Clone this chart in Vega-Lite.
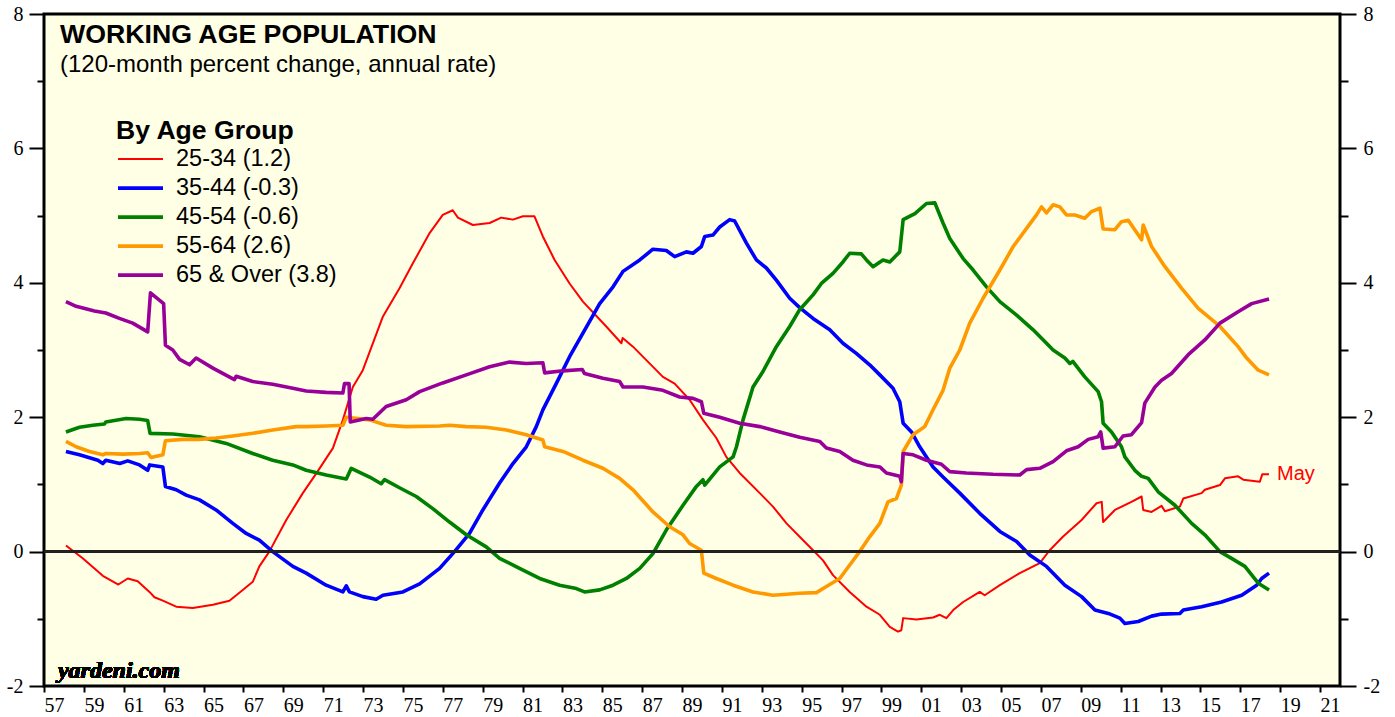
{
  "$schema": "https://vega.github.io/schema/vega-lite/v6.json",
  "width": 1296,
  "height": 672,
  "autosize": {"type": "none"},
  "padding": {"left": 44, "top": 14, "right": 55, "bottom": 31},
  "background": "white",
  "title": {
    "text": "WORKING AGE POPULATION",
    "subtitle": "(120-month percent change, annual rate)",
    "anchor": "start",
    "frame": "group",
    "orient": "top",
    "offset": -73,
    "dx": 16,
    "font": "Liberation Sans",
    "fontSize": 26.7,
    "fontWeight": "bold",
    "color": "black",
    "subtitleFont": "Liberation Sans",
    "subtitleFontSize": 24,
    "subtitleColor": "black",
    "subtitlePadding": 4
  },
  "datasets": {
    "pop": [
      {"g":"25-34 (1.2)","t":1958.1,"v":0.09},{"g":"25-34 (1.2)","t":1958.94,"v":-0.10},{"g":"25-34 (1.2)","t":1959.95,"v":-0.36},{"g":"25-34 (1.2)","t":1960.73,"v":-0.49},{"g":"25-34 (1.2)","t":1961.2,"v":-0.40},{"g":"25-34 (1.2)","t":1961.7,"v":-0.44},{"g":"25-34 (1.2)","t":1962.29,"v":-0.60},{"g":"25-34 (1.2)","t":1962.54,"v":-0.68},{"g":"25-34 (1.2)","t":1962.96,"v":-0.73},{"g":"25-34 (1.2)","t":1963.63,"v":-0.82},{"g":"25-34 (1.2)","t":1964.46,"v":-0.84},{"g":"25-34 (1.2)","t":1965.47,"v":-0.79},{"g":"25-34 (1.2)","t":1966.3,"v":-0.73},{"g":"25-34 (1.2)","t":1966.97,"v":-0.57},{"g":"25-34 (1.2)","t":1967.47,"v":-0.45},{"g":"25-34 (1.2)","t":1967.8,"v":-0.22},{"g":"25-34 (1.2)","t":1968.3,"v":0.0},{"g":"25-34 (1.2)","t":1969.15,"v":0.47},{"g":"25-34 (1.2)","t":1969.98,"v":0.87},{"g":"25-34 (1.2)","t":1970.65,"v":1.16},{"g":"25-34 (1.2)","t":1971.49,"v":1.54},{"g":"25-34 (1.2)","t":1971.99,"v":1.96},{"g":"25-34 (1.2)","t":1972.49,"v":2.45},{"g":"25-34 (1.2)","t":1972.99,"v":2.70},{"g":"25-34 (1.2)","t":1974.0,"v":3.50},{"g":"25-34 (1.2)","t":1974.83,"v":3.92},{"g":"25-34 (1.2)","t":1975.5,"v":4.29},{"g":"25-34 (1.2)","t":1976.34,"v":4.74},{"g":"25-34 (1.2)","t":1977.0,"v":5.01},{"g":"25-34 (1.2)","t":1977.5,"v":5.08},{"g":"25-34 (1.2)","t":1977.76,"v":4.97},{"g":"25-34 (1.2)","t":1978.51,"v":4.86},{"g":"25-34 (1.2)","t":1979.35,"v":4.89},{"g":"25-34 (1.2)","t":1979.93,"v":4.97},{"g":"25-34 (1.2)","t":1980.52,"v":4.94},{"g":"25-34 (1.2)","t":1981.02,"v":4.99},{"g":"25-34 (1.2)","t":1981.6,"v":4.99},{"g":"25-34 (1.2)","t":1982.02,"v":4.69},{"g":"25-34 (1.2)","t":1982.61,"v":4.34},{"g":"25-34 (1.2)","t":1983.36,"v":3.99},{"g":"25-34 (1.2)","t":1984.03,"v":3.72},{"g":"25-34 (1.2)","t":1985.2,"v":3.35},{"g":"25-34 (1.2)","t":1985.96,"v":3.10},{"g":"25-34 (1.2)","t":1986.02,"v":3.18},{"g":"25-34 (1.2)","t":1986.54,"v":3.05},{"g":"25-34 (1.2)","t":1987.21,"v":2.85},{"g":"25-34 (1.2)","t":1988.04,"v":2.60},{"g":"25-34 (1.2)","t":1988.63,"v":2.50},{"g":"25-34 (1.2)","t":1989.38,"v":2.26},{"g":"25-34 (1.2)","t":1990.05,"v":1.96},{"g":"25-34 (1.2)","t":1990.72,"v":1.69},{"g":"25-34 (1.2)","t":1991.22,"v":1.41},{"g":"25-34 (1.2)","t":1991.89,"v":1.17},{"g":"25-34 (1.2)","t":1992.9,"v":0.87},{"g":"25-34 (1.2)","t":1993.56,"v":0.67},{"g":"25-34 (1.2)","t":1994.24,"v":0.42},{"g":"25-34 (1.2)","t":1994.9,"v":0.22},{"g":"25-34 (1.2)","t":1995.57,"v":0.02},{"g":"25-34 (1.2)","t":1996.07,"v":-0.13},{"g":"25-34 (1.2)","t":1996.57,"v":-0.35},{"g":"25-34 (1.2)","t":1997.41,"v":-0.60},{"g":"25-34 (1.2)","t":1998.25,"v":-0.82},{"g":"25-34 (1.2)","t":1998.92,"v":-0.94},{"g":"25-34 (1.2)","t":1999.42,"v":-1.12},{"g":"25-34 (1.2)","t":1999.83,"v":-1.19},{"g":"25-34 (1.2)","t":2000.0,"v":-1.17},{"g":"25-34 (1.2)","t":2000.09,"v":-0.99},{"g":"25-34 (1.2)","t":2000.76,"v":-1.01},{"g":"25-34 (1.2)","t":2001.59,"v":-0.98},{"g":"25-34 (1.2)","t":2001.93,"v":-0.94},{"g":"25-34 (1.2)","t":2002.26,"v":-0.99},{"g":"25-34 (1.2)","t":2002.6,"v":-0.87},{"g":"25-34 (1.2)","t":2003.1,"v":-0.75},{"g":"25-34 (1.2)","t":2003.93,"v":-0.60},{"g":"25-34 (1.2)","t":2004.18,"v":-0.65},{"g":"25-34 (1.2)","t":2004.94,"v":-0.50},{"g":"25-34 (1.2)","t":2005.94,"v":-0.32},{"g":"25-34 (1.2)","t":2006.94,"v":-0.17},{"g":"25-34 (1.2)","t":2007.44,"v":0.02},{"g":"25-34 (1.2)","t":2008.1,"v":0.22},{"g":"25-34 (1.2)","t":2009.04,"v":0.47},{"g":"25-34 (1.2)","t":2009.79,"v":0.72},{"g":"25-34 (1.2)","t":2010.05,"v":0.74},{"g":"25-34 (1.2)","t":2010.12,"v":0.44},{"g":"25-34 (1.2)","t":2010.71,"v":0.62},{"g":"25-34 (1.2)","t":2011.54,"v":0.74},{"g":"25-34 (1.2)","t":2012.05,"v":0.82},{"g":"25-34 (1.2)","t":2012.13,"v":0.62},{"g":"25-34 (1.2)","t":2012.55,"v":0.59},{"g":"25-34 (1.2)","t":2013.05,"v":0.68},{"g":"25-34 (1.2)","t":2013.22,"v":0.60},{"g":"25-34 (1.2)","t":2013.97,"v":0.67},{"g":"25-34 (1.2)","t":2014.14,"v":0.79},{"g":"25-34 (1.2)","t":2015.06,"v":0.87},{"g":"25-34 (1.2)","t":2015.22,"v":0.92},{"g":"25-34 (1.2)","t":2015.98,"v":0.99},{"g":"25-34 (1.2)","t":2016.23,"v":1.09},{"g":"25-34 (1.2)","t":2016.89,"v":1.12},{"g":"25-34 (1.2)","t":2017.15,"v":1.07},{"g":"25-34 (1.2)","t":2017.98,"v":1.04},{"g":"25-34 (1.2)","t":2018.1,"v":1.15},{"g":"25-34 (1.2)","t":2018.44,"v":1.15},

      {"g":"35-44 (-0.3)","t":1958.1,"v":1.49},{"g":"35-44 (-0.3)","t":1958.78,"v":1.44},{"g":"35-44 (-0.3)","t":1959.7,"v":1.36},{"g":"35-44 (-0.3)","t":1959.95,"v":1.31},{"g":"35-44 (-0.3)","t":1960.1,"v":1.36},{"g":"35-44 (-0.3)","t":1960.8,"v":1.31},{"g":"35-44 (-0.3)","t":1961.2,"v":1.35},{"g":"35-44 (-0.3)","t":1961.79,"v":1.29},{"g":"35-44 (-0.3)","t":1962.2,"v":1.21},{"g":"35-44 (-0.3)","t":1962.3,"v":1.29},{"g":"35-44 (-0.3)","t":1962.96,"v":1.26},{"g":"35-44 (-0.3)","t":1963.09,"v":0.97},{"g":"35-44 (-0.3)","t":1963.63,"v":0.92},{"g":"35-44 (-0.3)","t":1964.13,"v":0.84},{"g":"35-44 (-0.3)","t":1964.8,"v":0.77},{"g":"35-44 (-0.3)","t":1965.63,"v":0.62},{"g":"35-44 (-0.3)","t":1966.47,"v":0.42},{"g":"35-44 (-0.3)","t":1967.14,"v":0.27},{"g":"35-44 (-0.3)","t":1967.8,"v":0.17},{"g":"35-44 (-0.3)","t":1968.47,"v":0.0},{"g":"35-44 (-0.3)","t":1969.48,"v":-0.22},{"g":"35-44 (-0.3)","t":1970.15,"v":-0.32},{"g":"35-44 (-0.3)","t":1971.15,"v":-0.50},{"g":"35-44 (-0.3)","t":1971.99,"v":-0.60},{"g":"35-44 (-0.3)","t":1972.16,"v":-0.51},{"g":"35-44 (-0.3)","t":1972.32,"v":-0.60},{"g":"35-44 (-0.3)","t":1972.99,"v":-0.67},{"g":"35-44 (-0.3)","t":1973.66,"v":-0.71},{"g":"35-44 (-0.3)","t":1974.0,"v":-0.65},{"g":"35-44 (-0.3)","t":1975.0,"v":-0.60},{"g":"35-44 (-0.3)","t":1975.84,"v":-0.48},{"g":"35-44 (-0.3)","t":1976.84,"v":-0.25},{"g":"35-44 (-0.3)","t":1977.59,"v":0.0},{"g":"35-44 (-0.3)","t":1978.34,"v":0.27},{"g":"35-44 (-0.3)","t":1979.01,"v":0.62},{"g":"35-44 (-0.3)","t":1979.85,"v":1.02},{"g":"35-44 (-0.3)","t":1980.52,"v":1.31},{"g":"35-44 (-0.3)","t":1981.19,"v":1.56},{"g":"35-44 (-0.3)","t":1981.69,"v":1.86},{"g":"35-44 (-0.3)","t":1982.02,"v":2.11},{"g":"35-44 (-0.3)","t":1982.69,"v":2.50},{"g":"35-44 (-0.3)","t":1983.36,"v":2.90},{"g":"35-44 (-0.3)","t":1984.03,"v":3.25},{"g":"35-44 (-0.3)","t":1984.87,"v":3.69},{"g":"35-44 (-0.3)","t":1985.54,"v":3.94},{"g":"35-44 (-0.3)","t":1986.04,"v":4.17},{"g":"35-44 (-0.3)","t":1986.88,"v":4.34},{"g":"35-44 (-0.3)","t":1987.54,"v":4.50},{"g":"35-44 (-0.3)","t":1988.21,"v":4.48},{"g":"35-44 (-0.3)","t":1988.63,"v":4.39},{"g":"35-44 (-0.3)","t":1989.22,"v":4.46},{"g":"35-44 (-0.3)","t":1989.55,"v":4.44},{"g":"35-44 (-0.3)","t":1989.97,"v":4.54},{"g":"35-44 (-0.3)","t":1990.14,"v":4.69},{"g":"35-44 (-0.3)","t":1990.55,"v":4.71},{"g":"35-44 (-0.3)","t":1990.89,"v":4.83},{"g":"35-44 (-0.3)","t":1991.39,"v":4.94},{"g":"35-44 (-0.3)","t":1991.64,"v":4.92},{"g":"35-44 (-0.3)","t":1992.23,"v":4.59},{"g":"35-44 (-0.3)","t":1992.73,"v":4.34},{"g":"35-44 (-0.3)","t":1993.23,"v":4.22},{"g":"35-44 (-0.3)","t":1993.73,"v":4.04},{"g":"35-44 (-0.3)","t":1994.4,"v":3.77},{"g":"35-44 (-0.3)","t":1994.9,"v":3.63},{"g":"35-44 (-0.3)","t":1995.57,"v":3.47},{"g":"35-44 (-0.3)","t":1996.41,"v":3.30},{"g":"35-44 (-0.3)","t":1997.07,"v":3.10},{"g":"35-44 (-0.3)","t":1997.74,"v":2.95},{"g":"35-44 (-0.3)","t":1998.41,"v":2.78},{"g":"35-44 (-0.3)","t":1998.92,"v":2.63},{"g":"35-44 (-0.3)","t":1999.58,"v":2.43},{"g":"35-44 (-0.3)","t":1999.92,"v":2.23},{"g":"35-44 (-0.3)","t":2000.09,"v":1.91},{"g":"35-44 (-0.3)","t":2000.51,"v":1.78},{"g":"35-44 (-0.3)","t":2000.92,"v":1.56},{"g":"35-44 (-0.3)","t":2001.59,"v":1.26},{"g":"35-44 (-0.3)","t":2002.09,"v":1.11},{"g":"35-44 (-0.3)","t":2002.93,"v":0.87},{"g":"35-44 (-0.3)","t":2003.93,"v":0.57},{"g":"35-44 (-0.3)","t":2004.94,"v":0.30},{"g":"35-44 (-0.3)","t":2005.78,"v":0.15},{"g":"35-44 (-0.3)","t":2006.44,"v":-0.05},{"g":"35-44 (-0.3)","t":2007.28,"v":-0.22},{"g":"35-44 (-0.3)","t":2008.2,"v":-0.50},{"g":"35-44 (-0.3)","t":2009.04,"v":-0.67},{"g":"35-44 (-0.3)","t":2009.71,"v":-0.87},{"g":"35-44 (-0.3)","t":2010.38,"v":-0.92},{"g":"35-44 (-0.3)","t":2010.96,"v":-0.99},{"g":"35-44 (-0.3)","t":2011.21,"v":-1.07},{"g":"35-44 (-0.3)","t":2011.88,"v":-1.04},{"g":"35-44 (-0.3)","t":2012.55,"v":-0.96},{"g":"35-44 (-0.3)","t":2013.05,"v":-0.93},{"g":"35-44 (-0.3)","t":2013.97,"v":-0.92},{"g":"35-44 (-0.3)","t":2014.14,"v":-0.87},{"g":"35-44 (-0.3)","t":2015.06,"v":-0.82},{"g":"35-44 (-0.3)","t":2016.06,"v":-0.75},{"g":"35-44 (-0.3)","t":2017.07,"v":-0.65},{"g":"35-44 (-0.3)","t":2017.82,"v":-0.50},{"g":"35-44 (-0.3)","t":2018.07,"v":-0.40},{"g":"35-44 (-0.3)","t":2018.44,"v":-0.32},

      {"g":"45-54 (-0.6)","t":1958.1,"v":1.78},{"g":"45-54 (-0.6)","t":1958.78,"v":1.85},{"g":"45-54 (-0.6)","t":1959.45,"v":1.88},{"g":"45-54 (-0.6)","t":1960.03,"v":1.90},{"g":"45-54 (-0.6)","t":1960.1,"v":1.93},{"g":"45-54 (-0.6)","t":1961.12,"v":1.98},{"g":"45-54 (-0.6)","t":1961.79,"v":1.97},{"g":"45-54 (-0.6)","t":1962.2,"v":1.95},{"g":"45-54 (-0.6)","t":1962.32,"v":1.76},{"g":"45-54 (-0.6)","t":1963.46,"v":1.75},{"g":"45-54 (-0.6)","t":1964.8,"v":1.71},{"g":"45-54 (-0.6)","t":1966.14,"v":1.61},{"g":"45-54 (-0.6)","t":1967.47,"v":1.46},{"g":"45-54 (-0.6)","t":1968.47,"v":1.36},{"g":"45-54 (-0.6)","t":1969.48,"v":1.29},{"g":"45-54 (-0.6)","t":1970.15,"v":1.21},{"g":"45-54 (-0.6)","t":1971.15,"v":1.14},{"g":"45-54 (-0.6)","t":1972.16,"v":1.08},{"g":"45-54 (-0.6)","t":1972.41,"v":1.24},{"g":"45-54 (-0.6)","t":1973.33,"v":1.11},{"g":"45-54 (-0.6)","t":1973.91,"v":1.01},{"g":"45-54 (-0.6)","t":1974.08,"v":1.07},{"g":"45-54 (-0.6)","t":1974.83,"v":0.95},{"g":"45-54 (-0.6)","t":1975.67,"v":0.82},{"g":"45-54 (-0.6)","t":1976.5,"v":0.64},{"g":"45-54 (-0.6)","t":1977.34,"v":0.44},{"g":"45-54 (-0.6)","t":1978.18,"v":0.25},{"g":"45-54 (-0.6)","t":1979.18,"v":0.07},{"g":"45-54 (-0.6)","t":1979.85,"v":-0.10},{"g":"45-54 (-0.6)","t":1980.85,"v":-0.25},{"g":"45-54 (-0.6)","t":1981.86,"v":-0.40},{"g":"45-54 (-0.6)","t":1982.86,"v":-0.50},{"g":"45-54 (-0.6)","t":1983.7,"v":-0.55},{"g":"45-54 (-0.6)","t":1984.11,"v":-0.60},{"g":"45-54 (-0.6)","t":1984.87,"v":-0.57},{"g":"45-54 (-0.6)","t":1985.54,"v":-0.50},{"g":"45-54 (-0.6)","t":1986.21,"v":-0.40},{"g":"45-54 (-0.6)","t":1986.88,"v":-0.25},{"g":"45-54 (-0.6)","t":1987.54,"v":-0.03},{"g":"45-54 (-0.6)","t":1988.21,"v":0.32},{"g":"45-54 (-0.6)","t":1989.05,"v":0.69},{"g":"45-54 (-0.6)","t":1989.72,"v":0.97},{"g":"45-54 (-0.6)","t":1990.05,"v":1.07},{"g":"45-54 (-0.6)","t":1990.14,"v":0.99},{"g":"45-54 (-0.6)","t":1990.89,"v":1.26},{"g":"45-54 (-0.6)","t":1991.56,"v":1.41},{"g":"45-54 (-0.6)","t":1991.73,"v":1.56},{"g":"45-54 (-0.6)","t":1992.06,"v":1.96},{"g":"45-54 (-0.6)","t":1992.56,"v":2.45},{"g":"45-54 (-0.6)","t":1993.06,"v":2.68},{"g":"45-54 (-0.6)","t":1993.73,"v":3.05},{"g":"45-54 (-0.6)","t":1994.4,"v":3.35},{"g":"45-54 (-0.6)","t":1994.9,"v":3.60},{"g":"45-54 (-0.6)","t":1995.57,"v":3.82},{"g":"45-54 (-0.6)","t":1995.99,"v":3.99},{"g":"45-54 (-0.6)","t":1996.57,"v":4.14},{"g":"45-54 (-0.6)","t":1997.07,"v":4.31},{"g":"45-54 (-0.6)","t":1997.41,"v":4.44},{"g":"45-54 (-0.6)","t":1997.99,"v":4.43},{"g":"45-54 (-0.6)","t":1998.25,"v":4.34},{"g":"45-54 (-0.6)","t":1998.58,"v":4.24},{"g":"45-54 (-0.6)","t":1999.08,"v":4.34},{"g":"45-54 (-0.6)","t":1999.42,"v":4.31},{"g":"45-54 (-0.6)","t":1999.92,"v":4.46},{"g":"45-54 (-0.6)","t":2000.09,"v":4.94},{"g":"45-54 (-0.6)","t":2000.68,"v":5.03},{"g":"45-54 (-0.6)","t":2001.26,"v":5.18},{"g":"45-54 (-0.6)","t":2001.68,"v":5.19},{"g":"45-54 (-0.6)","t":2002.09,"v":4.89},{"g":"45-54 (-0.6)","t":2002.43,"v":4.66},{"g":"45-54 (-0.6)","t":2003.1,"v":4.36},{"g":"45-54 (-0.6)","t":2003.6,"v":4.19},{"g":"45-54 (-0.6)","t":2004.27,"v":3.94},{"g":"45-54 (-0.6)","t":2004.94,"v":3.72},{"g":"45-54 (-0.6)","t":2005.78,"v":3.52},{"g":"45-54 (-0.6)","t":2006.61,"v":3.30},{"g":"45-54 (-0.6)","t":2007.28,"v":3.10},{"g":"45-54 (-0.6)","t":2007.61,"v":3.00},{"g":"45-54 (-0.6)","t":2008.2,"v":2.88},{"g":"45-54 (-0.6)","t":2008.45,"v":2.80},{"g":"45-54 (-0.6)","t":2008.6,"v":2.83},{"g":"45-54 (-0.6)","t":2009.2,"v":2.60},{"g":"45-54 (-0.6)","t":2009.87,"v":2.38},{"g":"45-54 (-0.6)","t":2010.04,"v":2.23},{"g":"45-54 (-0.6)","t":2010.12,"v":1.91},{"g":"45-54 (-0.6)","t":2010.54,"v":1.78},{"g":"45-54 (-0.6)","t":2011.04,"v":1.56},{"g":"45-54 (-0.6)","t":2011.21,"v":1.41},{"g":"45-54 (-0.6)","t":2011.71,"v":1.21},{"g":"45-54 (-0.6)","t":2012.05,"v":1.12},{"g":"45-54 (-0.6)","t":2012.38,"v":1.09},{"g":"45-54 (-0.6)","t":2012.88,"v":0.89},{"g":"45-54 (-0.6)","t":2013.72,"v":0.69},{"g":"45-54 (-0.6)","t":2014.56,"v":0.42},{"g":"45-54 (-0.6)","t":2015.22,"v":0.25},{"g":"45-54 (-0.6)","t":2015.98,"v":0.0},{"g":"45-54 (-0.6)","t":2016.56,"v":-0.10},{"g":"45-54 (-0.6)","t":2017.23,"v":-0.22},{"g":"45-54 (-0.6)","t":2017.9,"v":-0.47},{"g":"45-54 (-0.6)","t":2018.44,"v":-0.57},

      {"g":"55-64 (2.6)","t":1958.1,"v":1.64},{"g":"55-64 (2.6)","t":1958.61,"v":1.56},{"g":"55-64 (2.6)","t":1959.28,"v":1.49},{"g":"55-64 (2.6)","t":1959.95,"v":1.44},{"g":"55-64 (2.6)","t":1960.1,"v":1.46},{"g":"55-64 (2.6)","t":1960.95,"v":1.45},{"g":"55-64 (2.6)","t":1961.79,"v":1.46},{"g":"55-64 (2.6)","t":1962.2,"v":1.47},{"g":"55-64 (2.6)","t":1962.37,"v":1.40},{"g":"55-64 (2.6)","t":1962.96,"v":1.44},{"g":"55-64 (2.6)","t":1963.09,"v":1.65},{"g":"55-64 (2.6)","t":1963.96,"v":1.67},{"g":"55-64 (2.6)","t":1964.8,"v":1.67},{"g":"55-64 (2.6)","t":1965.63,"v":1.69},{"g":"55-64 (2.6)","t":1966.47,"v":1.72},{"g":"55-64 (2.6)","t":1967.47,"v":1.76},{"g":"55-64 (2.6)","t":1968.47,"v":1.81},{"g":"55-64 (2.6)","t":1969.65,"v":1.86},{"g":"55-64 (2.6)","t":1970.15,"v":1.86},{"g":"55-64 (2.6)","t":1971.15,"v":1.87},{"g":"55-64 (2.6)","t":1971.99,"v":1.88},{"g":"55-64 (2.6)","t":1972.16,"v":2.00},{"g":"55-64 (2.6)","t":1973.33,"v":1.96},{"g":"55-64 (2.6)","t":1974.16,"v":1.88},{"g":"55-64 (2.6)","t":1975.17,"v":1.86},{"g":"55-64 (2.6)","t":1976.84,"v":1.87},{"g":"55-64 (2.6)","t":1977.34,"v":1.88},{"g":"55-64 (2.6)","t":1978.18,"v":1.86},{"g":"55-64 (2.6)","t":1979.18,"v":1.85},{"g":"55-64 (2.6)","t":1980.19,"v":1.81},{"g":"55-64 (2.6)","t":1981.19,"v":1.74},{"g":"55-64 (2.6)","t":1982.02,"v":1.66},{"g":"55-64 (2.6)","t":1982.11,"v":1.56},{"g":"55-64 (2.6)","t":1983.03,"v":1.49},{"g":"55-64 (2.6)","t":1984.03,"v":1.36},{"g":"55-64 (2.6)","t":1985.03,"v":1.24},{"g":"55-64 (2.6)","t":1985.87,"v":1.09},{"g":"55-64 (2.6)","t":1986.54,"v":0.92},{"g":"55-64 (2.6)","t":1987.54,"v":0.59},{"g":"55-64 (2.6)","t":1988.38,"v":0.37},{"g":"55-64 (2.6)","t":1989.05,"v":0.25},{"g":"55-64 (2.6)","t":1989.38,"v":0.12},{"g":"55-64 (2.6)","t":1989.97,"v":0.02},{"g":"55-64 (2.6)","t":1990.09,"v":-0.32},{"g":"55-64 (2.6)","t":1990.72,"v":-0.40},{"g":"55-64 (2.6)","t":1991.56,"v":-0.50},{"g":"55-64 (2.6)","t":1992.56,"v":-0.60},{"g":"55-64 (2.6)","t":1993.56,"v":-0.65},{"g":"55-64 (2.6)","t":1994.9,"v":-0.62},{"g":"55-64 (2.6)","t":1995.74,"v":-0.61},{"g":"55-64 (2.6)","t":1996.24,"v":-0.52},{"g":"55-64 (2.6)","t":1996.91,"v":-0.40},{"g":"55-64 (2.6)","t":1997.41,"v":-0.20},{"g":"55-64 (2.6)","t":1997.91,"v":0.0},{"g":"55-64 (2.6)","t":1998.41,"v":0.22},{"g":"55-64 (2.6)","t":1998.92,"v":0.42},{"g":"55-64 (2.6)","t":1999.33,"v":0.74},{"g":"55-64 (2.6)","t":1999.75,"v":0.79},{"g":"55-64 (2.6)","t":2000.0,"v":0.99},{"g":"55-64 (2.6)","t":2000.09,"v":1.49},{"g":"55-64 (2.6)","t":2000.59,"v":1.74},{"g":"55-64 (2.6)","t":2001.17,"v":1.86},{"g":"55-64 (2.6)","t":2001.59,"v":2.11},{"g":"55-64 (2.6)","t":2002.09,"v":2.40},{"g":"55-64 (2.6)","t":2002.43,"v":2.73},{"g":"55-64 (2.6)","t":2002.93,"v":3.00},{"g":"55-64 (2.6)","t":2003.43,"v":3.40},{"g":"55-64 (2.6)","t":2004.1,"v":3.77},{"g":"55-64 (2.6)","t":2004.94,"v":4.19},{"g":"55-64 (2.6)","t":2005.61,"v":4.54},{"g":"55-64 (2.6)","t":2006.28,"v":4.81},{"g":"55-64 (2.6)","t":2006.78,"v":5.01},{"g":"55-64 (2.6)","t":2007.03,"v":5.13},{"g":"55-64 (2.6)","t":2007.28,"v":5.04},{"g":"55-64 (2.6)","t":2007.61,"v":5.16},{"g":"55-64 (2.6)","t":2007.95,"v":5.13},{"g":"55-64 (2.6)","t":2008.28,"v":5.01},{"g":"55-64 (2.6)","t":2008.7,"v":5.01},{"g":"55-64 (2.6)","t":2009.2,"v":4.96},{"g":"55-64 (2.6)","t":2009.54,"v":5.06},{"g":"55-64 (2.6)","t":2009.96,"v":5.11},{"g":"55-64 (2.6)","t":2010.12,"v":4.80},{"g":"55-64 (2.6)","t":2010.71,"v":4.79},{"g":"55-64 (2.6)","t":2011.04,"v":4.91},{"g":"55-64 (2.6)","t":2011.38,"v":4.93},{"g":"55-64 (2.6)","t":2012.05,"v":4.64},{"g":"55-64 (2.6)","t":2012.13,"v":4.86},{"g":"55-64 (2.6)","t":2012.55,"v":4.54},{"g":"55-64 (2.6)","t":2013.22,"v":4.24},{"g":"55-64 (2.6)","t":2014.05,"v":3.92},{"g":"55-64 (2.6)","t":2014.89,"v":3.62},{"g":"55-64 (2.6)","t":2015.98,"v":3.35},{"g":"55-64 (2.6)","t":2016.89,"v":3.05},{"g":"55-64 (2.6)","t":2017.32,"v":2.88},{"g":"55-64 (2.6)","t":2017.9,"v":2.70},{"g":"55-64 (2.6)","t":2018.44,"v":2.63},

      {"g":"65 & Over (3.8)","t":1958.1,"v":3.72},{"g":"65 & Over (3.8)","t":1958.61,"v":3.65},{"g":"65 & Over (3.8)","t":1959.53,"v":3.58},{"g":"65 & Over (3.8)","t":1960.1,"v":3.55},{"g":"65 & Over (3.8)","t":1960.78,"v":3.47},{"g":"65 & Over (3.8)","t":1961.45,"v":3.40},{"g":"65 & Over (3.8)","t":1962.2,"v":3.27},{"g":"65 & Over (3.8)","t":1962.34,"v":3.85},{"g":"65 & Over (3.8)","t":1963.0,"v":3.69},{"g":"65 & Over (3.8)","t":1963.09,"v":3.07},{"g":"65 & Over (3.8)","t":1963.46,"v":3.00},{"g":"65 & Over (3.8)","t":1963.8,"v":2.86},{"g":"65 & Over (3.8)","t":1964.3,"v":2.78},{"g":"65 & Over (3.8)","t":1964.63,"v":2.88},{"g":"65 & Over (3.8)","t":1965.47,"v":2.73},{"g":"65 & Over (3.8)","t":1966.55,"v":2.56},{"g":"65 & Over (3.8)","t":1966.64,"v":2.61},{"g":"65 & Over (3.8)","t":1967.47,"v":2.53},{"g":"65 & Over (3.8)","t":1968.47,"v":2.49},{"g":"65 & Over (3.8)","t":1969.48,"v":2.43},{"g":"65 & Over (3.8)","t":1970.15,"v":2.39},{"g":"65 & Over (3.8)","t":1971.15,"v":2.37},{"g":"65 & Over (3.8)","t":1971.99,"v":2.36},{"g":"65 & Over (3.8)","t":1972.07,"v":2.50},{"g":"65 & Over (3.8)","t":1972.3,"v":2.50},{"g":"65 & Over (3.8)","t":1972.36,"v":1.93},{"g":"65 & Over (3.8)","t":1973.16,"v":1.98},{"g":"65 & Over (3.8)","t":1973.49,"v":1.97},{"g":"65 & Over (3.8)","t":1974.16,"v":2.16},{"g":"65 & Over (3.8)","t":1975.17,"v":2.26},{"g":"65 & Over (3.8)","t":1975.84,"v":2.38},{"g":"65 & Over (3.8)","t":1977.0,"v":2.51},{"g":"65 & Over (3.8)","t":1978.18,"v":2.63},{"g":"65 & Over (3.8)","t":1979.35,"v":2.75},{"g":"65 & Over (3.8)","t":1980.35,"v":2.82},{"g":"65 & Over (3.8)","t":1981.19,"v":2.80},{"g":"65 & Over (3.8)","t":1982.02,"v":2.81},{"g":"65 & Over (3.8)","t":1982.11,"v":2.66},{"g":"65 & Over (3.8)","t":1983.03,"v":2.69},{"g":"65 & Over (3.8)","t":1984.0,"v":2.71},{"g":"65 & Over (3.8)","t":1984.11,"v":2.65},{"g":"65 & Over (3.8)","t":1985.03,"v":2.58},{"g":"65 & Over (3.8)","t":1985.87,"v":2.53},{"g":"65 & Over (3.8)","t":1986.04,"v":2.45},{"g":"65 & Over (3.8)","t":1987.04,"v":2.45},{"g":"65 & Over (3.8)","t":1988.04,"v":2.40},{"g":"65 & Over (3.8)","t":1988.88,"v":2.30},{"g":"65 & Over (3.8)","t":1989.55,"v":2.28},{"g":"65 & Over (3.8)","t":1989.97,"v":2.23},{"g":"65 & Over (3.8)","t":1990.09,"v":2.06},{"g":"65 & Over (3.8)","t":1990.89,"v":2.00},{"g":"65 & Over (3.8)","t":1991.89,"v":1.91},{"g":"65 & Over (3.8)","t":1992.9,"v":1.86},{"g":"65 & Over (3.8)","t":1993.9,"v":1.78},{"g":"65 & Over (3.8)","t":1994.9,"v":1.70},{"g":"65 & Over (3.8)","t":1995.91,"v":1.64},{"g":"65 & Over (3.8)","t":1996.24,"v":1.54},{"g":"65 & Over (3.8)","t":1996.91,"v":1.49},{"g":"65 & Over (3.8)","t":1997.57,"v":1.36},{"g":"65 & Over (3.8)","t":1998.25,"v":1.29},{"g":"65 & Over (3.8)","t":1998.92,"v":1.26},{"g":"65 & Over (3.8)","t":1999.25,"v":1.17},{"g":"65 & Over (3.8)","t":1999.92,"v":1.12},{"g":"65 & Over (3.8)","t":2000.0,"v":1.04},{"g":"65 & Over (3.8)","t":2000.09,"v":1.46},{"g":"65 & Over (3.8)","t":2000.59,"v":1.44},{"g":"65 & Over (3.8)","t":2001.26,"v":1.36},{"g":"65 & Over (3.8)","t":2002.01,"v":1.30},{"g":"65 & Over (3.8)","t":2002.43,"v":1.19},{"g":"65 & Over (3.8)","t":2003.26,"v":1.17},{"g":"65 & Over (3.8)","t":2004.6,"v":1.15},{"g":"65 & Over (3.8)","t":2005.94,"v":1.14},{"g":"65 & Over (3.8)","t":2006.28,"v":1.22},{"g":"65 & Over (3.8)","t":2006.94,"v":1.24},{"g":"65 & Over (3.8)","t":2007.61,"v":1.34},{"g":"65 & Over (3.8)","t":2008.28,"v":1.50},{"g":"65 & Over (3.8)","t":2008.87,"v":1.56},{"g":"65 & Over (3.8)","t":2009.37,"v":1.67},{"g":"65 & Over (3.8)","t":2009.87,"v":1.71},{"g":"65 & Over (3.8)","t":2010.0,"v":1.78},{"g":"65 & Over (3.8)","t":2010.12,"v":1.54},{"g":"65 & Over (3.8)","t":2010.71,"v":1.56},{"g":"65 & Over (3.8)","t":2011.12,"v":1.72},{"g":"65 & Over (3.8)","t":2011.54,"v":1.74},{"g":"65 & Over (3.8)","t":2012.05,"v":1.92},{"g":"65 & Over (3.8)","t":2012.21,"v":2.21},{"g":"65 & Over (3.8)","t":2012.72,"v":2.45},{"g":"65 & Over (3.8)","t":2013.05,"v":2.55},{"g":"65 & Over (3.8)","t":2013.55,"v":2.65},{"g":"65 & Over (3.8)","t":2014.39,"v":2.93},{"g":"65 & Over (3.8)","t":2015.22,"v":3.15},{"g":"65 & Over (3.8)","t":2015.98,"v":3.40},{"g":"65 & Over (3.8)","t":2016.89,"v":3.57},{"g":"65 & Over (3.8)","t":2017.57,"v":3.69},{"g":"65 & Over (3.8)","t":2018.44,"v":3.76}
    ]
  },
  "data": {"name": "pop"},
  "layer": [
    {
      "mark": {"type": "line", "strokeJoin": "round"},
      "encoding": {
        "x": {
          "field": "t", "type": "quantitative",
          "scale": {"domain": [1957, 2022], "nice": false, "zero": false},
          "axis": {
            "values": [1957,1958,1959,1960,1961,1962,1963,1964,1965,1966,1967,1968,1969,1970,1971,1972,1973,1974,1975,1976,1977,1978,1979,1980,1981,1982,1983,1984,1985,1986,1987,1988,1989,1990,1991,1992,1993,1994,1995,1996,1997,1998,1999,2000,2001,2002,2003,2004,2005,2006,2007,2008,2009,2010,2011,2012,2013,2014,2015,2016,2017,2018,2019,2020,2021,2022],
            "labelExpr": "(datum.value % 2 == 1 && datum.value < 2022) ? slice(toString(datum.value), 2) : ''",
            "labelOffset": 10,
            "tickSize": 6,
            "labelPadding": 3,
            "labelOverlap": false,
            "labelFlush": false,
            "labelBound": false
          }
        },
        "y": {
          "field": "v", "type": "quantitative",
          "scale": {"domain": [-2, 8], "nice": false, "zero": false},
          "axis": {
            "orient": "left",
            "values": [-2,-1,0,1,2,3,4,5,6,7,8],
            "labelExpr": "datum.value % 2 == 0 ? toString(datum.value) : ''",
            "tickSize": {"condition": {"test": "datum.value % 2 == 0", "value": 15}, "value": 7},
            "labelPadding": 6
          }
        },
        "color": {
          "field": "g", "type": "nominal",
          "scale": {
            "domain": ["25-34 (1.2)", "35-44 (-0.3)", "45-54 (-0.6)", "55-64 (2.6)", "65 & Over (3.8)"],
            "range": ["#FF0000", "#0000FF", "#008000", "#FF9900", "#990099"]
          },
          "legend": {"title": "By Age Group", "orient": "none", "legendX": 72, "legendY": 104}
        },
        "strokeWidth": {
          "field": "g", "type": "nominal",
          "scale": {
            "type": "ordinal",
            "domain": ["25-34 (1.2)", "35-44 (-0.3)", "45-54 (-0.6)", "55-64 (2.6)", "65 & Over (3.8)"],
            "range": [2, 3.6, 3.6, 3.6, 3.6]
          },
          "legend": {"title": "By Age Group", "orient": "none", "legendX": 72, "legendY": 104}
        }
      }
    },
    {
      "mark": {"type": "rule", "color": "#222222", "strokeWidth": 1.5},
      "encoding": {
        "y": {
          "datum": 0, "type": "quantitative",
          "scale": {"domain": [-2, 8], "nice": false, "zero": false},
          "axis": {
            "orient": "right",
            "values": [-2,-1,0,1,2,3,4,5,6,7,8],
            "labelExpr": "datum.value % 2 == 0 ? toString(datum.value) : ''",
            "tickSize": {"condition": {"test": "datum.value % 2 == 0", "value": 16}, "value": 8},
            "labelPadding": 7
          }
        }
      }
    },
    {
      "transform": [{"filter": "datum.g == '25-34 (1.2)' && datum.t > 2018.4"}],
      "mark": {"type": "text", "align": "left", "baseline": "middle", "dx": 8, "font": "Liberation Sans", "fontSize": 20, "color": "#FF0000"},
      "encoding": {
        "x": {"field": "t", "type": "quantitative"},
        "y": {"field": "v", "type": "quantitative", "scale": {"domain": [-2, 8], "nice": false, "zero": false}, "axis": null},
        "text": {"value": "May"}
      }
    },
    {
      "mark": {"type": "text", "align": "left", "baseline": "alphabetic", "font": "Liberation Serif", "fontSize": 24, "fontWeight": "bold", "fontStyle": "italic", "color": "black"},
      "encoding": {
        "x": {"datum": 1957.7, "type": "quantitative"},
        "y": {"datum": -1.88, "type": "quantitative", "scale": {"domain": [-2, 8], "nice": false, "zero": false}, "axis": null},
        "text": {"value": "yardeni.com"}
      }
    }
  ],
  "resolve": {"scale": {"y": "independent"}},
  "config": {
    "view": {"fill": "#FFFFE6", "stroke": "black", "strokeWidth": 3},
    "axis": {
      "labelFont": "Liberation Serif",
      "labelFontSize": 20,
      "labelColor": "black",
      "tickColor": "black",
      "tickWidth": 2,
      "domain": false,
      "grid": false,
      "title": null
    },
    "legend": {
      "titleFont": "Liberation Sans",
      "titleFontSize": 26.6,
      "titleFontWeight": "bold",
      "titleColor": "black",
      "titlePadding": 0,
      "titleLimit": 400,
      "labelFont": "Liberation Sans",
      "labelFontSize": 23.5,
      "labelColor": "black",
      "labelLimit": 400,
      "labelOffset": 11,
      "symbolType": "stroke",
      "symbolSize": 2025,
      "symbolStrokeWidth": 3.6,
      "clipHeight": 29,
      "rowPadding": 0,
      "padding": 0
    }
  }
}
